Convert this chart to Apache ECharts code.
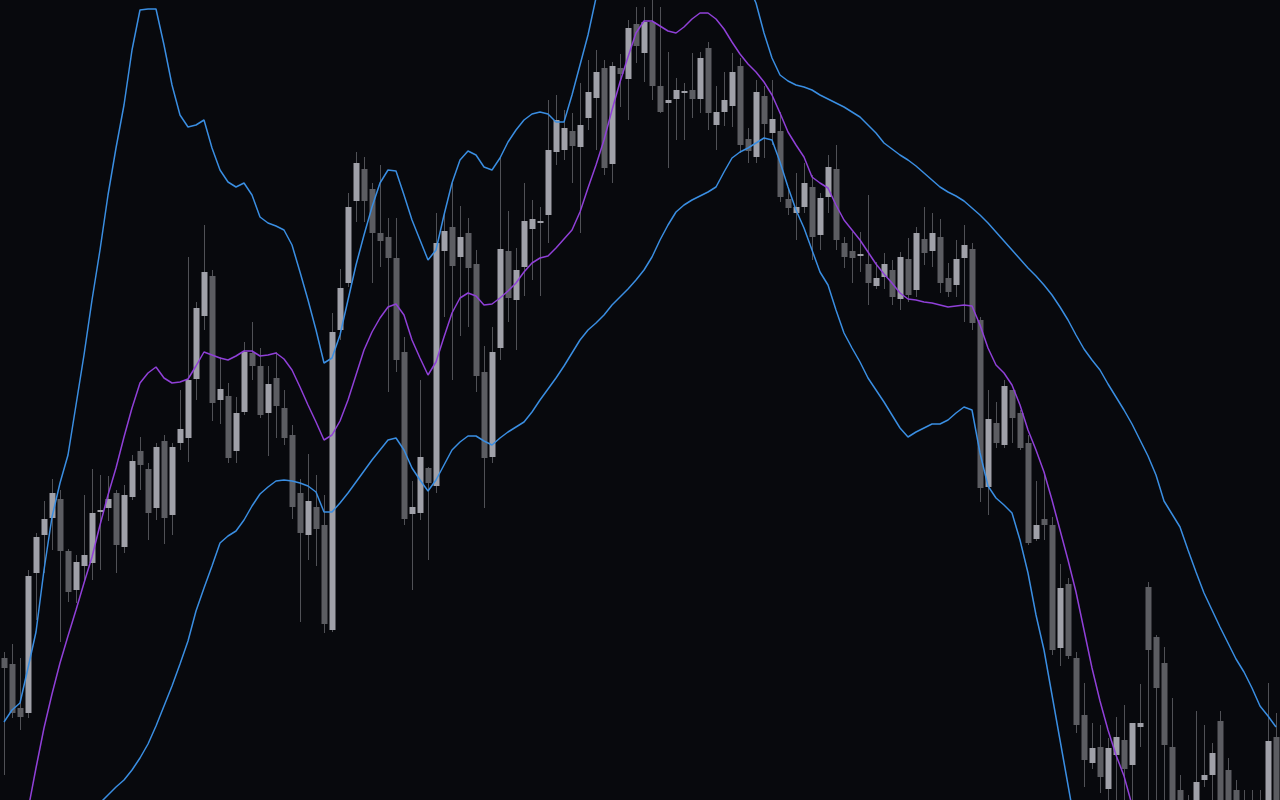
<!DOCTYPE html>
<html>
<head>
<meta charset="utf-8">
<script src="https://cdn.jsdelivr.net/npm/echarts@6/dist/echarts.min.js"></script>
<style>
html,body{margin:0;padding:0;background:#08090d;}
#chart{width:1280px;height:800px;}
</style>
</head>
<body>
<div id="chart"></div>
<script>
// Candle data (price units)
const opens = [142,136,92,87,227,265,282,301,249,210,234,237,288,292,307,253,303,349,331,292,359,285,357,362,421,484,524,400,404,349,388,447,434,387,422,392,365,307,265,293,275,170,470,517,599,631,611,567,563,542,448,286,287,332,314,549,573,543,567,536,428,343,452,549,500,533,571,577,585,648,650,669,653,682,702,732,636,732,721,776,747,778,714,697,701,707,710,701,752,675,688,694,734,661,643,704,667,669,601,587,593,613,565,603,631,557,549,544,536,514,523,530,501,541,510,561,549,563,522,515,542,551,480,313,377,355,410,387,357,261,281,275,152,216,142,85,37,53,11,45,60,35,73,213,163,137,53,10,-40,-20,20,25,79,30,10,-30,-30,-30,-20,63];
const closes = [132,87,83,224,263,281,307,249,208,238,245,287,290,301,255,305,339,335,287,353,282,353,371,420,492,528,397,411,342,387,448,434,385,416,394,362,293,267,299,271,176,468,512,593,637,599,567,559,542,440,281,293,343,317,557,569,534,563,532,424,342,448,551,502,530,579,581,579,650,680,672,654,675,708,728,632,734,726,772,754,778,714,688,700,710,709,701,742,687,688,700,728,655,649,708,676,681,603,592,593,617,563,602,633,560,543,542,546,517,522,536,503,543,505,567,547,567,517,508,541,555,477,312,381,357,414,382,352,257,275,275,150,212,144,75,40,52,23,52,63,31,77,77,150,112,55,-20,-30,-10,18,25,47,-10,-20,-20,-40,-40,-40,59,-20];
const lows = [25,82,70,82,180,227,250,158,198,197,220,220,230,279,227,247,300,310,260,280,256,265,350,338,400,470,379,376,337,337,385,420,382,344,362,355,281,178,240,234,167,168,460,513,578,578,517,533,408,428,275,210,280,240,307,483,420,464,473,408,292,337,440,478,450,504,520,504,557,635,640,617,567,670,650,625,617,693,680,737,718,700,687,632,660,660,682,687,670,650,674,673,647,637,637,642,655,598,585,560,587,540,550,587,550,532,517,528,495,511,511,495,490,498,503,535,533,507,503,503,478,470,298,285,352,352,357,350,255,259,260,145,134,141,67,13,31,7,0,-5,-5,-5,53,-10,-10,-10,-30,-40,-50,-30,13,0,-20,-30,-30,-50,-50,-50,-30,-30];
const highs = [148,156,142,230,267,299,321,310,251,245,305,331,325,324,310,315,345,363,337,357,365,357,410,543,498,575,530,443,417,403,458,478,452,434,448,410,375,321,346,325,305,487,531,607,648,643,617,635,582,582,463,319,420,333,587,587,617,594,582,550,454,473,643,589,552,617,600,593,700,705,690,687,717,740,750,740,738,746,780,793,793,800,793,748,722,717,747,748,758,714,728,747,742,672,720,714,720,688,612,627,637,625,607,645,655,563,568,568,605,538,547,540,548,562,573,593,587,581,537,560,575,557,483,410,398,420,410,390,365,319,328,283,236,222,148,117,77,75,62,83,95,77,116,218,165,153,102,25,5,89,75,57,89,42,20,10,10,10,117,87];

// Bollinger band values
const upperBand = [78,90,97,132,168,230,283,317,345,395,445,500,550,605,652,695,750,790,791,791,755,715,685,673,675,680,652,630,618,613,617,605,583,577,574,570,555,528,500,470,437,442,465,500,535,565,593,617,630,629,605,580,560,540,550,585,617,640,649,645,633,630,642,658,670,680,686,688,686,678,678,705,735,765,802,830,855,875,895,910,920,925,925,920,912,900,890,880,870,860,852,845,835,815,797,767,742,725,719,715,713,710,705,701,697,693,688,683,675,667,657,651,645,640,634,627,620,613,608,604,599,592,585,577,568,559,550,541,532,524,515,505,493,480,465,451,440,430,416,403,390,376,360,344,325,299,286,273,250,228,207,190,173,157,141,128,112,94,84,73];
const middleBand = [-130,-90,-50,-10,32,72,106,137,164,190,217,243,275,305,332,363,392,417,427,433,422,417,418,421,434,448,445,442,440,444,449,449,444,445,447,441,430,413,395,378,360,365,379,400,425,450,468,482,493,496,485,460,442,425,438,463,487,502,507,504,495,496,502,509,517,528,537,542,544,552,561,570,588,612,635,660,690,718,743,767,779,779,774,769,767,773,781,787,787,781,771,758,746,736,728,718,705,687,668,655,643,623,617,612,595,580,570,560,548,536,526,517,507,501,500,498,497,495,493,494,495,494,475,452,435,427,415,395,370,350,328,300,270,240,208,170,132,99,70,45,24,-5,-35,-55,-70,-82,-95,-105,-115,-122,-128,-132,-135,-138,-140,-141,-142,-142,-140,-138];
const lowerBand = [-82,-77,-72,-66,-60,-53,-47,-40,-33,-26,-18,-11,-3,5,13,20,30,42,56,74,94,114,136,159,189,212,234,257,264,269,280,294,306,313,319,320,319,317,314,308,288,288,297,307,318,329,340,350,360,362,350,332,320,309,320,335,350,358,364,364,359,355,362,368,373,378,388,400,411,422,434,447,460,470,477,485,495,503,511,520,530,543,560,575,588,595,600,604,608,613,628,642,648,652,657,662,660,638,613,590,572,550,528,515,490,467,452,438,422,410,398,385,372,363,368,372,376,376,380,387,393,390,347,314,302,295,287,260,227,185,150,105,60,15,-30,-70,-105,-135,-160,-180,-195,-205,-210,-200,-195,-195,-200,-205,-210,-212,-215,-215,-215,-213,-210,-208,-205,-200,-195,-190];

const categories = opens.map((_, i) => String(i));
const candleData = opens.map((o, i) => [i, o, closes[i], lows[i], highs[i]]);

const UP = '#a0a1a9', DOWN = '#5c5d62', WICK = '#505156';
const BLUE = '#3a8ee2', PURPLE = '#9040d8';

function renderCandle(params, api) {
  const idx = api.value(0);
  const o = api.value(1), c = api.value(2), l = api.value(3), h = api.value(4);
  const pO = api.coord([idx, o]);
  const pC = api.coord([idx, c]);
  const pL = api.coord([idx, l]);
  const pH = api.coord([idx, h]);
  const band = api.size([1, 0])[0];
  const w = Math.round(band * 0.75);
  const cx = Math.round(pO[0]);
  const top = Math.round(Math.min(pO[1], pC[1]));
  const bot = Math.round(Math.max(pO[1], pC[1]));
  const up = c >= o;
  return {
    type: 'group',
    children: [
      { type: 'rect', shape: { x: cx, y: Math.round(pH[1]), width: 1, height: Math.max(1, Math.round(pL[1]) - Math.round(pH[1])) },
        style: { fill: WICK } },
      { type: 'rect', shape: { x: cx - w / 2 + 0.5, y: top, width: w, height: Math.max(1, bot - top) },
        style: { fill: up ? UP : DOWN } }
    ]
  };
}

const chart = echarts.init(document.getElementById('chart'), null, { renderer: 'canvas' });
chart.setOption({
  backgroundColor: '#08090d',
  animation: false,
  grid: { left: 0, right: 0, top: 0, bottom: 0 },
  xAxis: { type: 'category', data: categories, boundaryGap: true, show: false },
  yAxis: { type: 'value', min: 0, max: 800, show: false, splitLine: { show: false } },
  series: [
    { type: 'custom', name: 'candles', renderItem: renderCandle, data: candleData,
      encode: { x: 0, y: [1, 2, 3, 4] }, clip: true, z: 2 },
    { type: 'line', name: 'upper', data: upperBand, symbol: 'none', clip: true, z: 3,
      lineStyle: { color: BLUE, width: 1.5 } },
    { type: 'line', name: 'middle', data: middleBand, symbol: 'none', clip: true, z: 3,
      lineStyle: { color: PURPLE, width: 1.5 } },
    { type: 'line', name: 'lower', data: lowerBand, symbol: 'none', clip: true, z: 3,
      lineStyle: { color: BLUE, width: 1.5 } }
  ]
});
</script>
</body>
</html>
